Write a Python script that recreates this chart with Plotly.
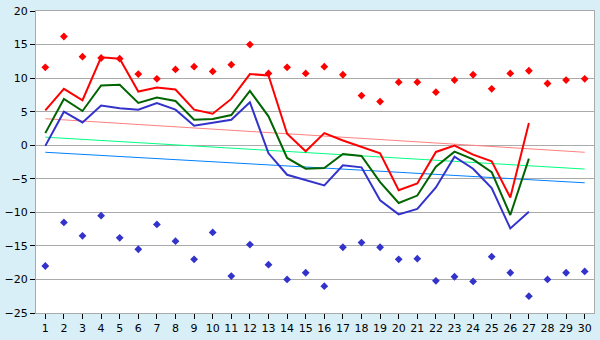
import plotly.graph_objects as go

days = list(range(1, 31))

# daily series (°C)
avg_max = [5.2, 8.4, 6.7, 13.1, 12.9, 8.0, 8.6, 8.3, 5.3, 4.7,
           6.9, 10.6, 10.4, 1.7, -0.9, 1.8, 0.7, -0.2, -1.2, -6.7,
           -5.7, -1.0, -0.05, -1.4, -2.4, -7.8, 3.3]
avg_mean = [1.8, 6.9, 5.1, 8.9, 9.0, 6.3, 7.1, 6.6, 3.8, 3.9,
            4.5, 8.1, 4.3, -1.9, -3.5, -3.4, -1.3, -1.6, -5.5, -8.6,
            -7.5, -3.2, -0.95, -2.1, -4.0, -10.4, -2.0]
avg_min = [-0.1, 5.0, 3.4, 5.9, 5.5, 5.3, 6.3, 5.3, 2.9, 3.3,
           3.8, 6.4, -1.2, -4.4, -5.2, -6.0, -3.0, -3.3, -8.2, -10.3,
           -9.5, -6.3, -1.7, -3.5, -6.4, -12.4, -9.9]

rec_max = [11.6, 16.2, 13.2, 13.0, 12.9, 10.6, 9.9, 11.3, 11.7, 11.0,
           12.0, 15.0, 10.7, 11.6, 10.7, 11.7, 10.5, 7.4, 6.5, 9.4,
           9.4, 7.9, 9.7, 10.5, 8.4, 10.7, 11.1, 9.2, 9.7, 9.9]
rec_min = [-18.0, -11.5, -13.5, -10.5, -13.8, -15.5, -11.8, -14.3, -17.0, -13.0,
           -19.5, -14.8, -17.8, -20.0, -19.0, -21.0, -15.2, -14.5, -15.2, -17.0,
           -16.9, -20.2, -19.6, -20.3, -16.6, -19.0, -22.5, -20.0, -19.0, -18.8]

# linear trend end points (day 1, day 30)
trend_days = [1, 30]
trend_max = [3.95, -1.05]
trend_mean = [1.2, -3.55]
trend_min = [-1.05, -5.6]

fig = go.Figure()

fig.add_trace(go.Scatter(x=trend_days, y=trend_max, mode="lines",
                         line=dict(color="#ff8080", width=1)))
fig.add_trace(go.Scatter(x=trend_days, y=trend_mean, mode="lines",
                         line=dict(color="#00ff80", width=1)))
fig.add_trace(go.Scatter(x=trend_days, y=trend_min, mode="lines",
                         line=dict(color="#0080ff", width=1)))

fig.add_trace(go.Scatter(x=days[:len(avg_max)], y=avg_max, mode="lines",
                         line=dict(color="#ff0000", width=2)))
fig.add_trace(go.Scatter(x=days[:len(avg_mean)], y=avg_mean, mode="lines",
                         line=dict(color="#006400", width=2)))
fig.add_trace(go.Scatter(x=days[:len(avg_min)], y=avg_min, mode="lines",
                         line=dict(color="#3333cc", width=2)))

fig.add_trace(go.Scatter(x=days, y=rec_max, mode="markers",
                         marker=dict(symbol="diamond", size=6, color="#ff0000")))
fig.add_trace(go.Scatter(x=days, y=rec_min, mode="markers",
                         marker=dict(symbol="diamond", size=6, color="#3333cc")))

font = dict(family="DejaVu Sans", size=11, color="#000000")

fig.update_layout(
    width=600, height=340,
    margin=dict(l=26, r=5, t=5, b=20),
    paper_bgcolor="#d9eff7",
    plot_bgcolor="#ffffff",
    showlegend=False,
    font=font,
)
fig.update_xaxes(
    range=[0.5, 30.5], tickmode="array", tickvals=days,
    ticks="outside", ticklen=5, tickcolor="#000000",
    showgrid=False, zeroline=False,
    showline=True, linecolor="#aaaaaa", linewidth=1, mirror=True,
    tickfont=font, ticklabeloverflow="allow",
)
fig.update_yaxes(
    range=[-25, 20], dtick=5,
    ticks="outside", ticklen=5, tickcolor="#000000",
    showgrid=True, gridcolor="#aaaaaa", gridwidth=1,
    zeroline=False,
    showline=True, linecolor="#aaaaaa", linewidth=1, mirror=True,
    tickfont=font, tickformat="d", ticklabeloverflow="allow",
)

fig.write_html("out.html")
